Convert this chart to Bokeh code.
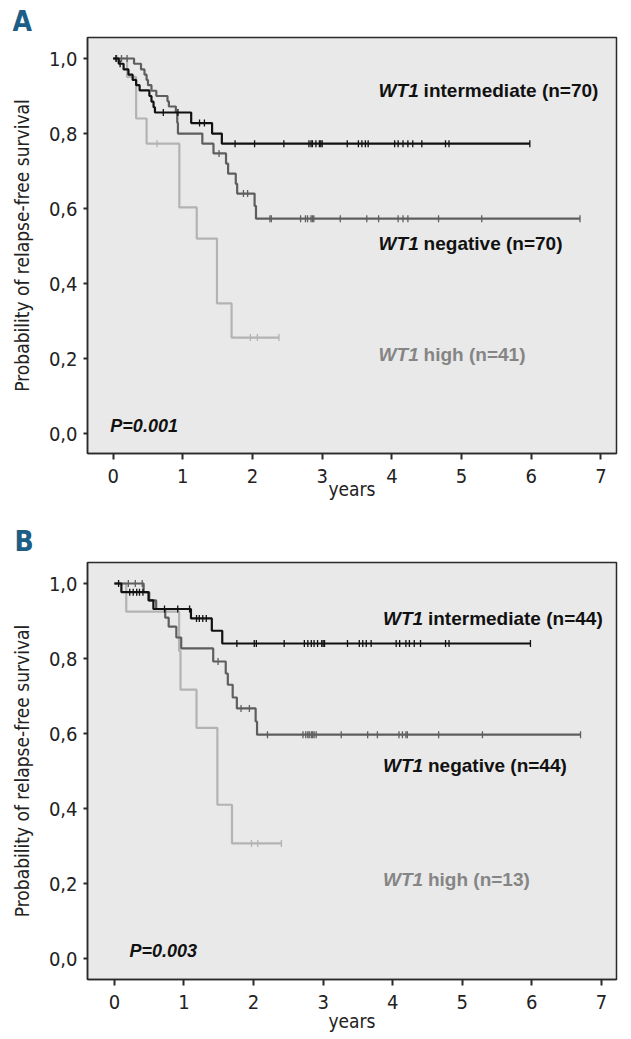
import numpy as np
from bokeh.plotting import figure
from bokeh.layouts import column
from bokeh.models import Range1d, FixedTicker, Title
from bokeh.core.properties import value
from bokeh.embed import file_html
from bokeh.resources import INLINE

# ---------------- data ----------------
x_ticks = [0, 1, 2, 3, 4, 5, 6, 7]
x_tick_labels = ["0", "1", "2", "3", "4", "5", "6", "7"]
y_ticks = [0.0, 0.2, 0.4, 0.6, 0.8, 1.0]
y_tick_labels = ["0,0", "0,2", "0,4", "0,6", "0,8", "1,0"]
x_label = "years"
y_label = "Probability of relapse-free survival"

# Panel A : event times (years) and survival after each event
a_int_t = [0.08, 0.15, 0.22, 0.28, 0.33, 0.38, 0.52, 0.55, 0.58, 0.60, 1.12, 1.42, 1.56]
a_int_s = [0.986, 0.971, 0.957, 0.943, 0.929, 0.915, 0.900, 0.885, 0.870, 0.856, 0.828, 0.800, 0.773]
a_int_end = 5.98
a_int_cens = [0.04, 0.10, 0.72, 0.93, 1.24, 1.31, 1.75, 2.03, 2.45, 2.81, 2.84, 2.86, 2.91,
              2.96, 2.98, 3.00, 3.36, 3.52, 3.57, 3.62, 3.66, 4.04, 4.09, 4.16, 4.23, 4.30,
              4.43, 4.77, 4.82, 5.98]

a_neg_t = [0.30, 0.40, 0.45, 0.48, 0.50, 0.55, 0.62, 0.78, 0.80, 0.90, 0.92, 0.93,
           1.28, 1.44, 1.62, 1.65, 1.76, 1.78, 2.03, 2.05]
a_neg_s = [0.986, 0.971, 0.957, 0.943, 0.929, 0.914, 0.900, 0.886, 0.872, 0.857, 0.829, 0.800,
           0.773, 0.747, 0.720, 0.693, 0.666, 0.640, 0.607, 0.573]
a_neg_end = 6.70
a_neg_cens = [0.05, 0.12, 0.20, 1.52, 1.87, 1.93, 2.25, 2.27, 2.69, 2.76, 2.79, 2.84, 2.86,
              2.88, 3.26, 3.64, 3.81, 4.09, 4.16, 4.23, 4.67, 5.29, 6.70]

a_high_t = [0.20, 0.33, 0.48, 0.95, 1.20, 1.49, 1.70]
a_high_s = [0.951, 0.840, 0.773, 0.603, 0.520, 0.347, 0.256]
a_high_end = 2.38
a_high_cens = [0.63, 1.97, 2.07, 2.38]

# Panel B
b_int_t = [0.10, 0.49, 0.56, 1.10, 1.40, 1.55]
b_int_s = [0.977, 0.955, 0.932, 0.907, 0.874, 0.840]
b_int_end = 5.98
b_int_cens = [0.06, 0.22, 0.27, 0.32, 0.36, 0.41, 0.72, 0.91, 1.08, 1.18, 1.22, 1.27, 1.32,
              1.76, 2.01, 2.04, 2.44, 2.73, 2.78, 2.83, 2.87, 2.92, 2.98, 3.00, 3.02, 3.35,
              3.52, 3.57, 3.62, 3.69, 4.05, 4.10, 4.19, 4.24, 4.31, 4.40, 4.76, 4.81, 5.98]

b_neg_t = [0.42, 0.50, 0.60, 0.73, 0.78, 0.89, 0.96, 1.42, 1.60, 1.63, 1.70, 1.76, 2.03, 2.05]
b_neg_s = [0.977, 0.955, 0.932, 0.909, 0.885, 0.856, 0.827, 0.792, 0.760, 0.730, 0.696,
           0.667, 0.632, 0.597]
b_neg_end = 6.70
b_neg_cens = [0.20, 0.30, 0.40, 1.49, 1.82, 1.94, 2.20, 2.71, 2.75, 2.78, 2.80, 2.83, 2.85,
              2.87, 2.90, 3.26, 3.64, 3.78, 4.09, 4.14, 4.19, 4.21, 4.66, 5.29, 6.70]

b_high_t = [0.17, 0.93, 0.95, 1.18, 1.48, 1.69]
b_high_s = [0.925, 0.820, 0.717, 0.615, 0.410, 0.307]
b_high_end = 2.40
b_high_cens = [1.97, 2.06, 2.40]

a_labels = ["intermediate (n=70)", "negative (n=70)", "high (n=41)"]
b_labels = ["intermediate (n=44)", "negative (n=44)", "high (n=13)"]
a_p = "P=0.001"
b_p = "P=0.003"

# ---------------- styles ----------------
NARROW = "DejaVu Sans Condensed"
SANS = "Liberation Sans"
C_INT = "#111111"
C_NEG = "#5e5e5e"
C_HIGH = "#b3b3b3"
C_HIGH_TXT = "#858585"
BG = "#e9e9e9"
LETTER = "#1d5e86"


def km_xy(times, surv, end):
    xs = [0.0] + list(times) + [end]
    ys = [1.0] + list(surv) + [surv[-1]]
    return xs, ys


def surv_at(times, surv, pts):
    idx = np.searchsorted(np.array(times), np.array(pts), side="right")
    s = np.array([1.0] + list(surv))
    return list(s[idx])


def panel(letter, curves, labels, ptxt, geom):
    p = figure(width=geom["w"], height=geom["h"], output_backend="svg",
               toolbar_location=None, title=None,
               x_range=Range1d(*geom["xr"]), y_range=Range1d(*geom["yr"]),
               min_border_left=geom["bl"], min_border_right=geom["br"],
               min_border_top=geom["bt"], min_border_bottom=geom["bb"])
    p.background_fill_color = BG
    p.border_fill_color = "white"
    p.outline_line_color = "#2a2a2a"
    p.outline_line_width = 1.5
    p.xgrid.visible = False
    p.ygrid.visible = False

    p.xaxis.ticker = FixedTicker(ticks=x_ticks)
    p.xaxis.major_label_overrides = {t: l for t, l in zip(x_ticks, x_tick_labels)}
    p.yaxis.ticker = FixedTicker(ticks=y_ticks)
    p.yaxis.major_label_overrides = {t: l for t, l in zip(y_ticks, y_tick_labels)}
    for ax in (p.xaxis, p.yaxis):
        ax.axis_line_color = "#2a2a2a"
        ax.axis_line_width = 1.5
        ax.major_tick_line_color = "#2a2a2a"
        ax.major_tick_line_width = 2
        ax.major_tick_in = 0
        ax.minor_tick_line_color = None
        ax.major_label_text_font = NARROW
        ax.major_label_text_font_size = "20px"
        ax.major_label_text_color = "#222222"
        ax.axis_label_text_font = NARROW
        ax.axis_label_text_font_size = "19px"
        ax.axis_label_text_font_style = "normal"
        ax.axis_label_text_color = "#222222"
    p.xaxis.major_tick_out = 6
    p.yaxis.major_tick_out = 4
    p.xaxis.major_label_standoff = 9
    p.yaxis.major_label_standoff = 6
    p.xaxis.axis_label = x_label
    p.yaxis.axis_label = y_label
    p.xaxis.axis_label_standoff = geom["xls"]
    p.yaxis.axis_label_standoff = geom["yls"]

    colors = [C_INT, C_NEG, C_HIGH]
    order = [2, 1, 0]
    for i in order:
        t, s, end, cens = curves[i]
        xs, ys = km_xy(t, s, end)
        p.step(xs, ys, mode="after", line_color=colors[i], line_width=2.2)
        p.scatter(cens, surv_at(t, s, cens), marker="dash", angle=np.pi / 2, size=7,
                  line_color=colors[i], line_width=1.3)

    # group labels
    txt_col = [C_INT, C_INT, C_HIGH_TXT]
    for i in range(3):
        lx, ly = geom["lab"][i]
        p.text([lx], [ly], text=["WT1"], text_font=value(SANS), text_font_size="19px",
               text_font_style="bold italic", text_color=txt_col[i],
               text_baseline="alphabetic")
        p.text([lx], [ly], text=[labels[i]], text_font=value(SANS), text_font_size="19px",
               text_font_style="bold", text_color=txt_col[i], x_offset=45,
               text_baseline="alphabetic")
    px, py = geom["p"]
    p.text([px], [py], text=[ptxt], text_font=value(SANS), text_font_size="18px",
           text_font_style="bold italic", text_color="#111111", text_baseline="alphabetic")

    p.add_layout(Title(text=letter, align="left", offset=geom["toff"],
                       standoff=geom["tst"], text_font=NARROW, text_font_size="28px",
                       text_font_style="bold", text_color=LETTER), "above")
    return p


geomA = dict(w=631, h=516, bl=87, br=8, bt=37, bb=63,
             xr=(-0.368, 7.224), yr=(-0.053, 1.056), xls=-8, yls=13,
             lab=[(3.81, 0.915), (3.81, 0.506), (3.81, 0.210)],
             p=(-0.04, 0.020), toff=-75, tst=0)
geomB = dict(w=631, h=523, bl=86, br=15, bt=46, bb=60,
             xr=(-0.387, 7.217), yr=(-0.056, 1.056), xls=-2, yls=13,
             lab=[(3.86, 0.908), (3.86, 0.516), (3.86, 0.210)],
             p=(0.215, 0.019), toff=-73, tst=10)

pA = panel("A", [(a_int_t, a_int_s, a_int_end, a_int_cens),
                 (a_neg_t, a_neg_s, a_neg_end, a_neg_cens),
                 (a_high_t, a_high_s, a_high_end, a_high_cens)], a_labels, a_p, geomA)
pB = panel("B", [(b_int_t, b_int_s, b_int_end, b_int_cens),
                 (b_neg_t, b_neg_s, b_neg_end, b_neg_cens),
                 (b_high_t, b_high_s, b_high_end, b_high_cens)], b_labels, b_p, geomB)

layout = column(pA, pB, spacing=0)
open("out.html", "w").write(file_html(layout, INLINE))
